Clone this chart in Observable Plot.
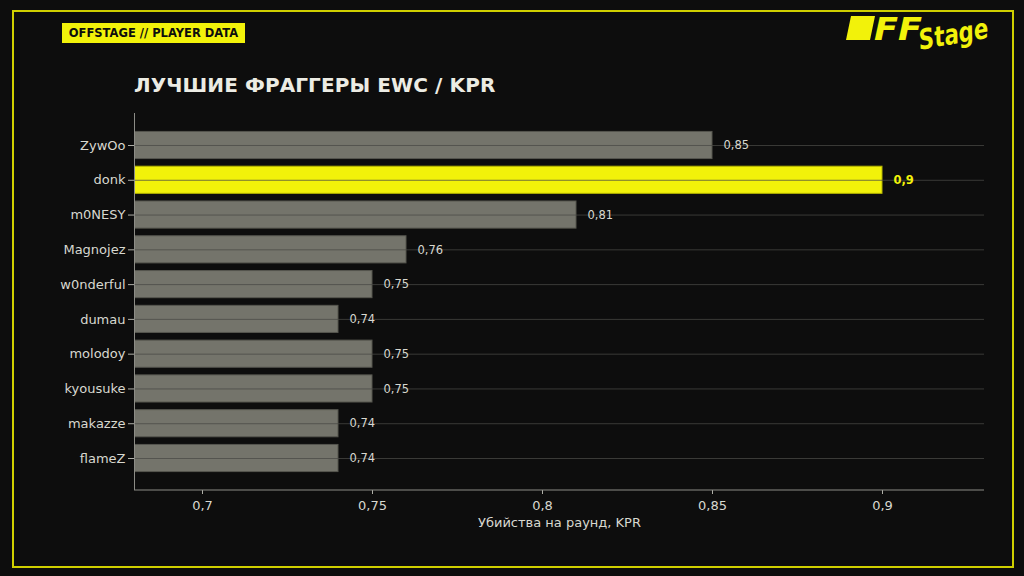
<!DOCTYPE html>
<html>
<head>
<meta charset="utf-8">
<script src="https://cdn.jsdelivr.net/npm/d3@7"></script>
<script src="https://cdn.jsdelivr.net/npm/@observablehq/plot@0.6"></script>
<style>
  html, body { margin:0; padding:0; background:#0d0d0d; }
  #wrap { position:relative; width:1024px; height:576px; overflow:hidden; background:#0d0d0d; font-family:"DejaVu Sans", sans-serif; }
  #border { position:absolute; left:12px; top:10px; width:998px; height:554px; border:2px solid #cfcf00; box-sizing:content-box; }
  #badge { position:absolute; left:62px; top:23px; height:20px; width:183px; background:#f2f20a; color:#0d0d0d; font-weight:bold; font-size:11.5px; line-height:20px; text-align:center; white-space:nowrap; }
  #title { position:absolute; left:134px; top:73px; color:#ececE4; font-weight:bold; font-size:20px; letter-spacing:0.1px; white-space:nowrap; }
  #logo { position:absolute; left:836px; top:0px; overflow:visible; }
  #chart { position:absolute; left:0; top:0; }
</style>
</head>
<body>
<div id="wrap">
  <div id="chart"></div>
  <div id="border"></div>
  <div id="badge">OFFSTAGE // PLAYER DATA</div>
  <div id="title">ЛУЧШИЕ ФРАГГЕРЫ EWC / KPR</div>
  <svg id="logo" width="170" height="60" viewBox="0 0 170 60">
    <polygon points="15,16 39,16 34,40 10,40" fill="#f2f20a"/>
    <text x="38" y="40" fill="#f2f20a" font-family="DejaVu Sans" font-weight="bold" font-style="italic" font-size="32" textLength="48" lengthAdjust="spacingAndGlyphs">FF</text>
    <text x="82" y="44" fill="#f2f20a" font-family="DejaVu Sans" font-style="italic" font-weight="bold" font-size="28" textLength="70" lengthAdjust="spacingAndGlyphs" transform="rotate(-10 116 32)">Stage</text>
  </svg>
</div>
<script>
const players = ["ZywOo","donk","m0NESY","Magnojez","w0nderful","dumau","molodoy","kyousuke","makazze","flameZ"];
const kpr = [0.85, 0.9, 0.81, 0.76, 0.75, 0.74, 0.75, 0.75, 0.74, 0.74];
const xTicks = [0.7, 0.75, 0.8, 0.85, 0.9];
const xDomain = [0.68, 0.93];
const xLabel = "Убийства на раунд, KPR";
const highlight = "donk";

const data = players.map((p, i) => ({player: p, kpr: kpr[i]}));
const fmt = v => String(v).replace(".", ",");
const yellow = "#f2f20a";

const chart = Plot.plot({
  width: 1024,
  height: 576,
  marginTop: 113,
  marginBottom: 86,
  marginLeft: 134,
  marginRight: 40,
  style: {background: "transparent", color: "#d8d8d0", fontFamily: "DejaVu Sans, sans-serif", fontSize: "12px"},
  x: {domain: xDomain},
  y: {domain: players, paddingInner: 0.22, paddingOuter: 0.53, round: false, label: null},
  marks: [
    Plot.barX(data, {x: "kpr", y: "player", clip: true,
      fill: d => d.player === highlight ? yellow : "#74746b",
      stroke: d => d.player === highlight ? "#b5b500" : "#56564f", strokeWidth: 1}),
    Plot.gridY({stroke: "#4a4a46", strokeOpacity: 0.75, strokeWidth: 1}),
    Plot.ruleX([xDomain[0]], {stroke: "#8c8c86"}),
    Plot.axisY({tickSize: 6, tickPadding: 3, fontSize: 13, stroke: "#b0b0a8", fill: "#d8d8d0", label: null}),
    Plot.axisX({ticks: xTicks, tickFormat: fmt, tickSize: 4, tickPadding: 6, fontSize: 13, stroke: "#b0b0a8", fill: "#d8d8d0",
      label: xLabel, labelAnchor: "center", labelArrow: "none", labelOffset: 36}),
    Plot.text(data.filter(d => d.player !== highlight), {x: "kpr", y: "player", text: d => fmt(d.kpr), dx: 11, textAnchor: "start", fill: "#d8d8d0", fontSize: 11.5}),
    Plot.text(data.filter(d => d.player === highlight), {x: "kpr", y: "player", text: d => fmt(d.kpr), dx: 11, textAnchor: "start", fill: yellow, fontWeight: "bold", fontSize: 11.5})
  ]
});
document.getElementById("chart").appendChild(chart);

// bottom axis line along the frame
d3.select(chart).append("line")
  .attr("x1", 134).attr("x2", 1024 - 40)
  .attr("y1", 576 - 86).attr("y2", 576 - 86)
  .attr("stroke", "#8c8c86");
</script>
</body>
</html>
